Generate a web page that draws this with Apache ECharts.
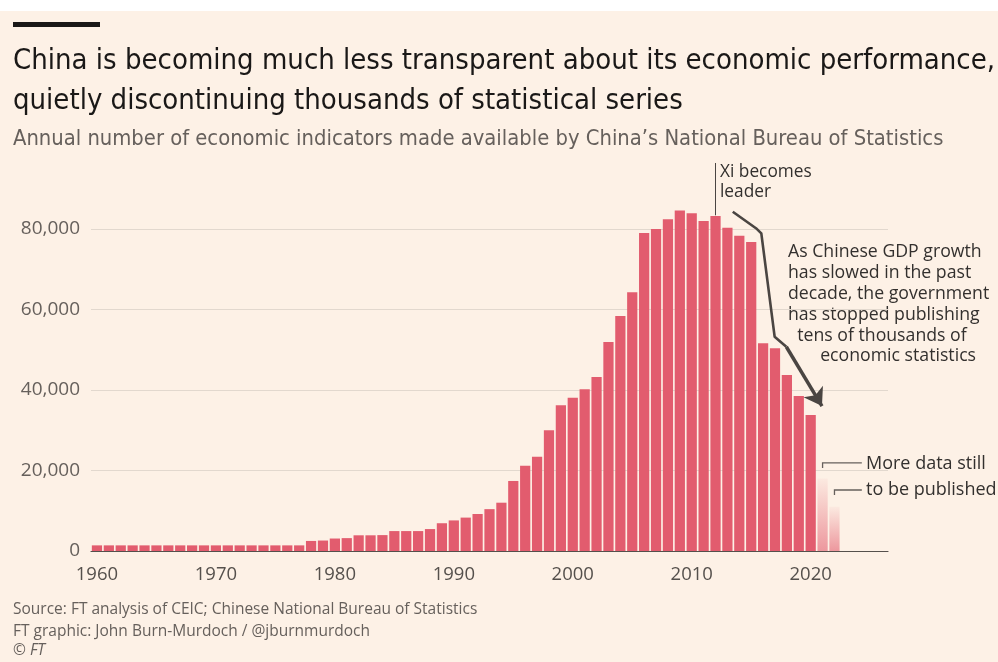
<!DOCTYPE html>
<html>
<head>
<meta charset="utf-8">
<script src="https://cdn.jsdelivr.net/npm/echarts@6/dist/echarts.min.js"></script>
<style>
  html, body { margin: 0; padding: 0; background: #ffffff; }
  #chart { width: 998px; height: 662px; }
</style>
</head>
<body>
<div id="chart"></div>
<script>
// year categories, axis runs a few empty years past the last bar
const years = [];
for (let y = 1960; y <= 2026; y++) years.push(String(y));

// number of indicators per year, 1960-2022
const indicators = [
  1400, 1400, 1400, 1400, 1400, 1400, 1400, 1400, 1400, 1400,   // 1960s
  1400, 1400, 1400, 1400, 1400, 1400, 1400, 1400, 2500, 2600,   // 1970s
  3100, 3200, 3900, 3900, 3950, 4950, 4950, 4950, 5450, 6900,   // 1980s
  7600, 8300, 9200, 10400, 12000, 17400, 21200, 23400, 30000, 36200, // 1990s
  38100, 40200, 43200, 51900, 58400, 64300, 79000, 80000, 82400, 84600, // 2000s
  83900, 82000, 83200, 80300, 78300, 76800, 51600, 50400, 43700, 38500, // 2010s
  33800, 18000, 11000                                           // 2020s
];
const provisionalYears = ['2021', '2022'];

const yTicks = [0, 20000, 40000, 60000, 80000];

// annotation paths in (year, value) space
const xiLine = [[2012, 83400], [2012, 96400]];
const arrowPath = [[2013.45, 84300], [2015.4, 80200], [2015.85, 78900], [2016.97, 53250], [2017.95, 50750]];
const arrowHead = [[2017.95, 50750], [2020.95, 36000]];
const pendingLeaders = [
  [[2021, 20600], [2021, 21900], [2024.3, 21900]],
  [[2022, 13900], [2022, 15150], [2024.3, 15150]]
];

const titleText = 'China is becoming much less transparent about its economic performance,\nquietly discontinuing thousands of statistical series';
const subtitleText = 'Annual number of economic indicators made available by China\u2019s National Bureau of Statistics';
const footerText = 'Source: FT analysis of CEIC; Chinese National Bureau of Statistics\nFT graphic: John Burn-Murdoch / @jburnmurdoch';
const noteLines = [
  'As Chinese GDP growth',
  'has slowed in the past',
  'decade, the government',
  'has stopped publishing',
  '  tens of thousands of',
  '       economic statistics'
];

const barColor = '#e25c6e';
const fadeColor = new echarts.graphic.LinearGradient(0, 0, 0, 1, [
  { offset: 0, color: 'rgba(226,92,110,0.05)' },
  { offset: 1, color: 'rgba(226,92,110,0.6)' }
]);
const sansFont = "'Open Sans', 'Noto Sans', sans-serif";
const headFont = "'DejaVu Sans Condensed', sans-serif";

const barData = indicators.map((v, i) => {
  const year = years[i];
  if (provisionalYears.includes(year)) {
    return { value: v, itemStyle: { color: fadeColor } };
  }
  return v;
});

const chart = echarts.init(document.getElementById('chart'));

const lineBase = {
  type: 'lines',
  coordinateSystem: 'cartesian2d',
  xAxisIndex: 1,
  yAxisIndex: 0,
  clip: false,
  z: 5
};

const option = {
  backgroundColor: '#fdf1e6',
  animation: false,
  textStyle: { fontFamily: sansFont },
  title: [
    {
      text: titleText,
      left: 13, top: 41, padding: 0,
      textStyle: { fontFamily: headFont, fontSize: 29, fontWeight: 'normal', color: '#1a1817', lineHeight: 40 }
    },
    {
      text: subtitleText,
      left: 13, top: 127, padding: 0,
      textStyle: { fontFamily: headFont, fontSize: 21.8, fontWeight: 'normal', color: '#66605c', lineHeight: 24 }
    },
    {
      text: footerText,
      left: 13, top: 598, padding: 0,
      textStyle: { fontFamily: sansFont, fontSize: 15.5, fontWeight: 'normal', color: '#66605c', lineHeight: 22.5 }
    },
    {
      text: '\u00a9 FT',
      left: 13, top: 641, padding: 0,
      textStyle: { fontFamily: sansFont, fontSize: 15.5, fontWeight: 'normal', fontStyle: 'italic', color: '#66605c', lineHeight: 20 }
    }
  ],
  grid: { left: 91, right: 110, top: 229, bottom: 111, containLabel: false },
  xAxis: [
    {
      type: 'category',
      data: years,
      boundaryGap: true,
      axisLine: { lineStyle: { color: '#55504c', width: 1.2 } },
      axisTick: {
        alignWithLabel: true,
        length: 7,
        interval: (i, v) => Number(v) % 10 === 0,
        lineStyle: { color: '#55504c', width: 1.2 }
      },
      axisLabel: {
        interval: (i, v) => Number(v) % 10 === 0,
        color: '#55504c', fontSize: 18.5, margin: 14
      }
    },
    { type: 'value', min: 1959.5, max: 2026.5, show: false }
  ],
  yAxis: {
    type: 'value',
    min: yTicks[0],
    max: yTicks[yTicks.length - 1],
    interval: 20000,
    axisLine: { show: false },
    axisTick: { show: false },
    splitLine: { lineStyle: { color: '#e2d8ce', width: 1.2 } },
    axisLabel: {
      color: '#66605c', fontSize: 19, margin: 11,
      formatter: v => v.toLocaleString('en-US')
    }
  },
  series: [
    {
      type: 'bar',
      data: barData,
      xAxisIndex: 0,
      clip: false,
      barCategoryGap: '14%',
      itemStyle: { color: barColor }
    },
    Object.assign({}, lineBase, {
      polyline: true,
      lineStyle: { color: '#4a4542', width: 1, opacity: 1 },
      data: [{ coords: xiLine }]
    }),
    Object.assign({}, lineBase, {
      polyline: true,
      lineStyle: { color: '#4a4542', width: 2.6, opacity: 1, join: 'round' },
      data: [{ coords: arrowPath }]
    }),
    Object.assign({}, lineBase, {
      polyline: false,
      symbol: ['none', 'arrow'],
      symbolSize: [0, 17],
      lineStyle: { color: '#4a4542', width: 3.5, opacity: 1, curveness: 0 },
      data: [{ coords: arrowHead }]
    }),
    Object.assign({}, lineBase, {
      polyline: true,
      lineStyle: { color: '#66605c', width: 1.3, opacity: 1 },
      data: pendingLeaders.map(c => ({ coords: c }))
    })
  ],
  graphic: [
    { type: 'rect', left: 0, top: 0, shape: { width: 998, height: 11 }, style: { fill: '#ffffff' } },
    { type: 'rect', left: 13, top: 22, shape: { width: 87, height: 5 }, style: { fill: '#1a1817' } },
    {
      type: 'text', left: 720, top: 162,
      style: { text: 'Xi becomes\nleader', fill: '#33302e', font: "17.3px " + sansFont, lineHeight: 20 }
    },
    {
      type: 'text', left: 788, top: 242,
      style: { text: noteLines.join('\n'), fill: '#33302e', font: "17.7px " + sansFont, lineHeight: 20.8 }
    },
    {
      type: 'text', left: 866, top: 451,
      style: { text: 'More data still\nto be published', fill: '#33302e', font: "18px " + sansFont, lineHeight: 26 }
    }
  ]
};

chart.setOption(option);
</script>
</body>
</html>
